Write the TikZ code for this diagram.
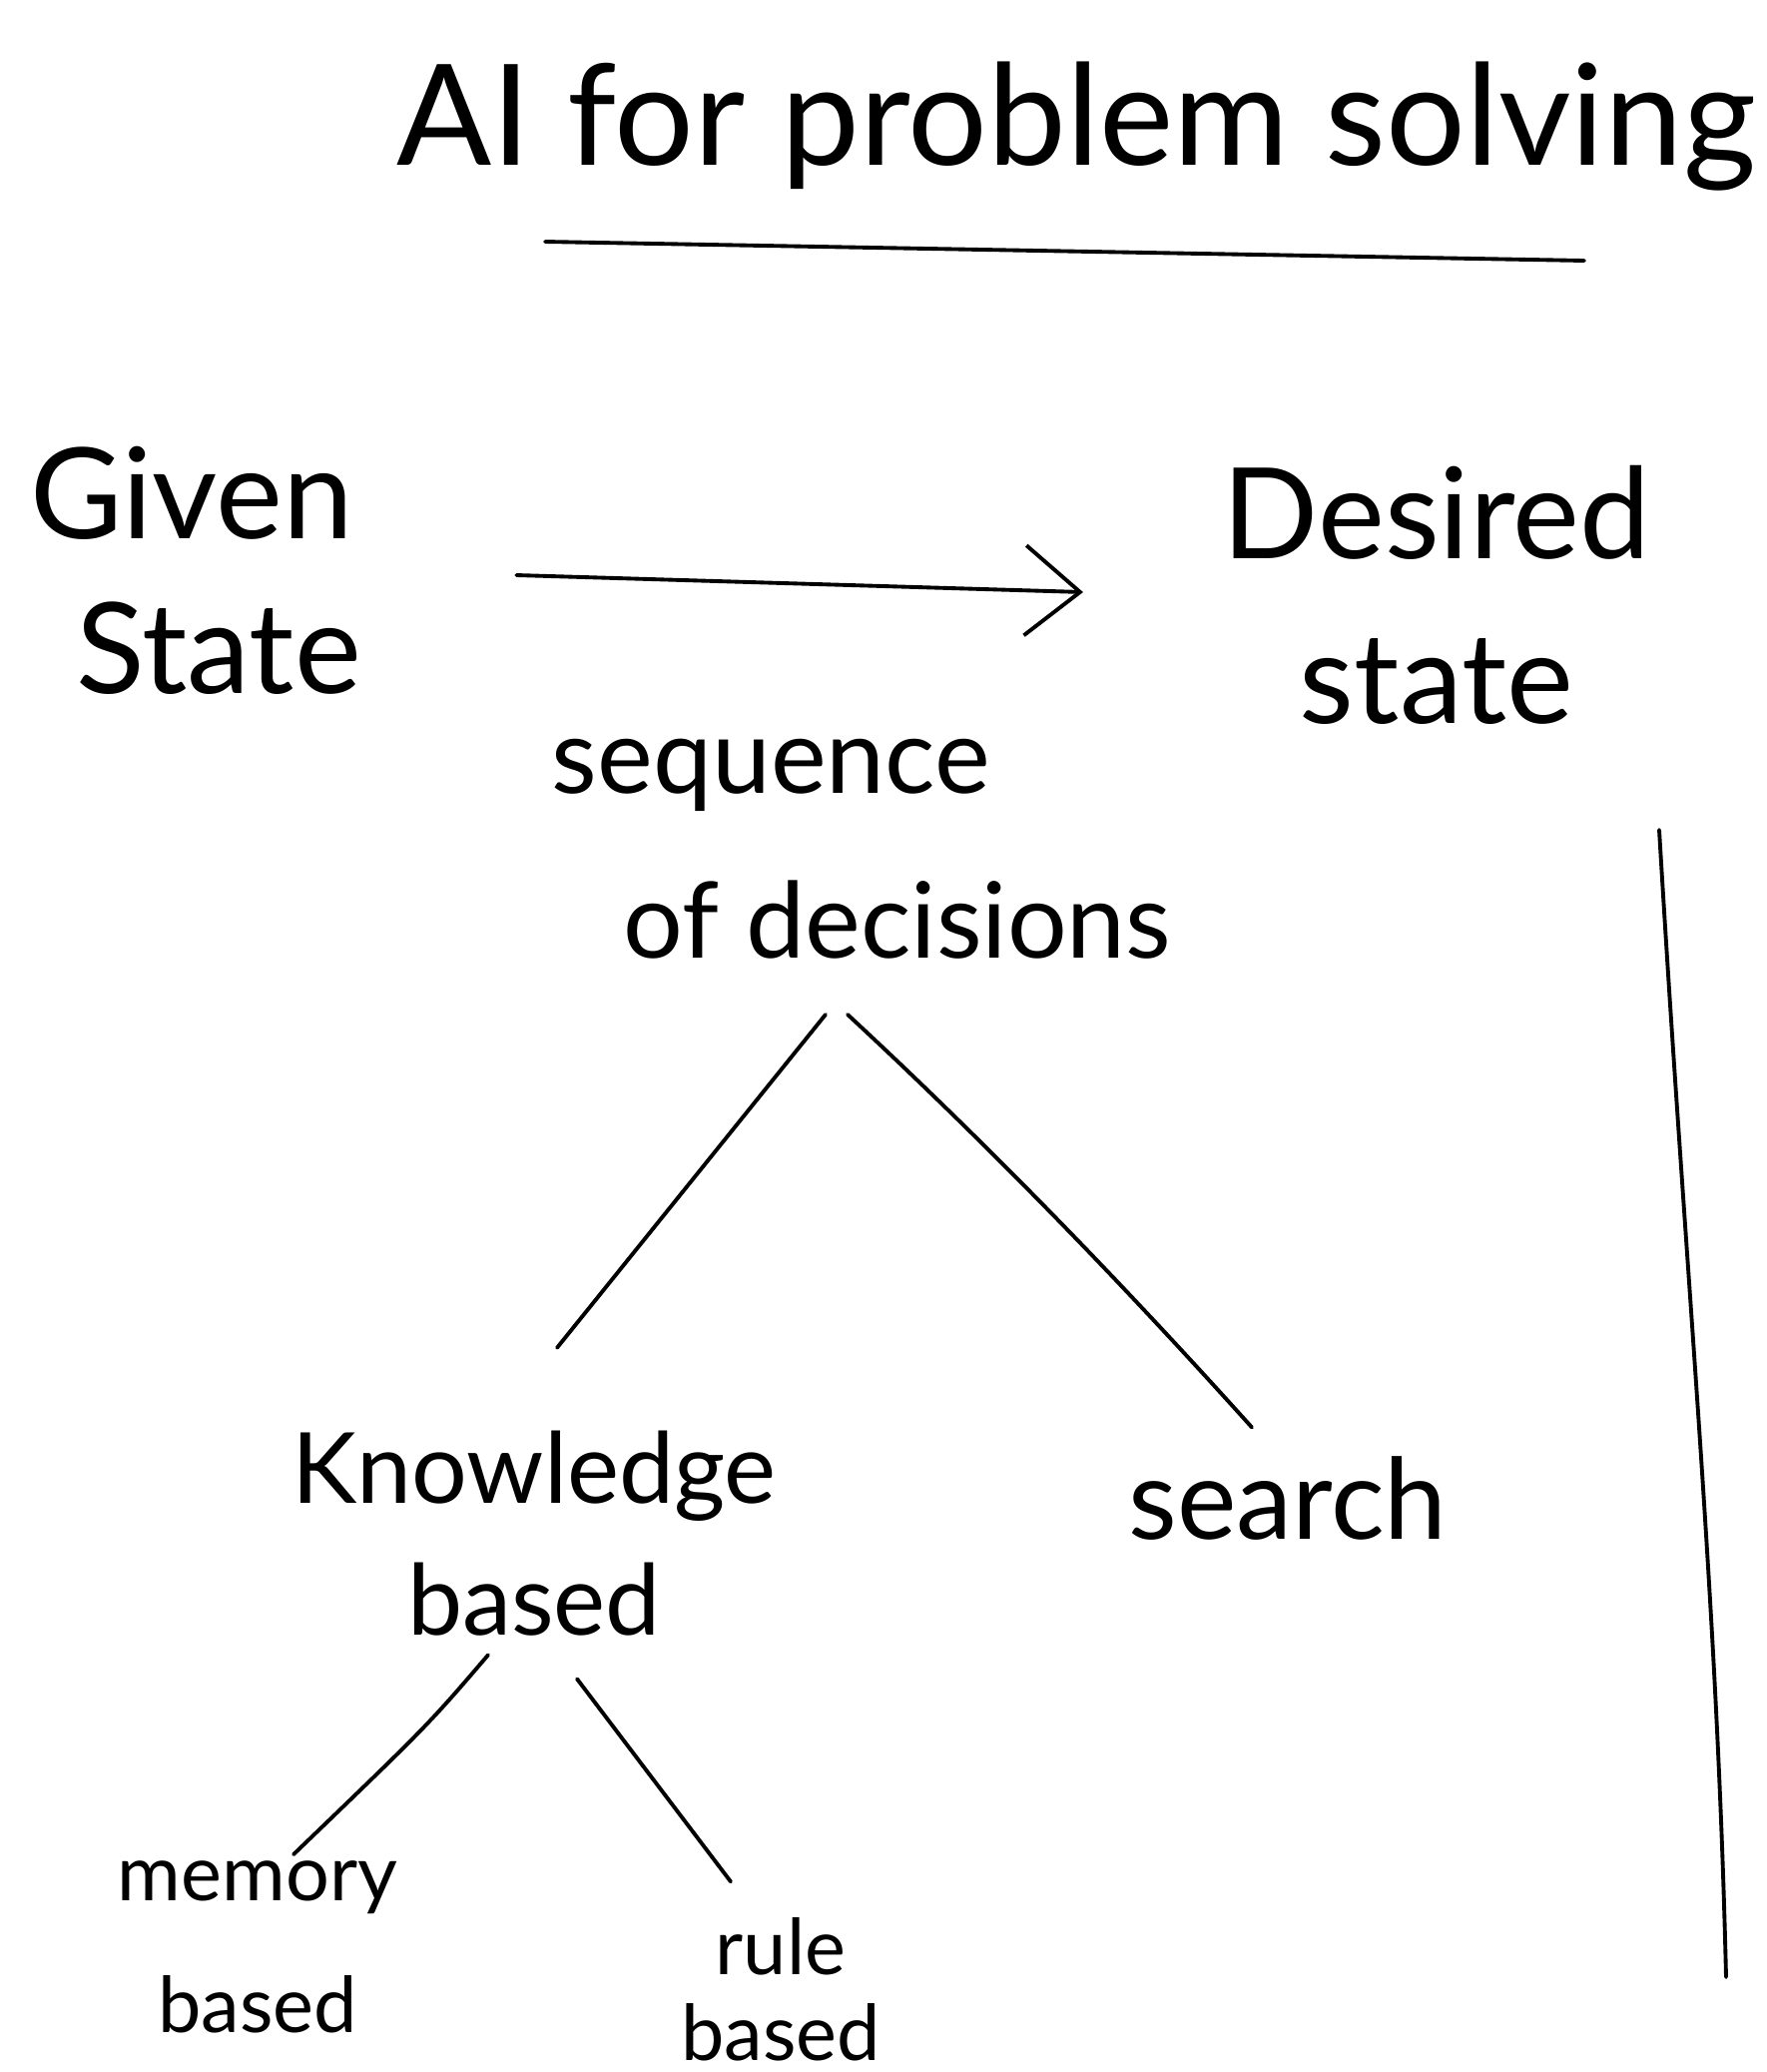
\documentclass[tikz,border=0pt]{standalone}
\usepackage{fontspec}
\setmainfont{Lato}
\usetikzlibrary{arrows.meta,calc}
\begin{document}
\begin{tikzpicture}[x=0.01cm,y=-0.01cm,
  ink/.style={line width=1.1pt,line cap=round,line join=round},
  lbl/.style={inner sep=0pt,align=center},
  arrowtip/.style={-{Straight Barb[length=5.5mm,width=9mm,line width=1.1pt]}}]
\useasboundingbox (0,0) rectangle (1770,2075);

% heading with its underline
\node[inner sep=0pt,anchor=base west,font=\fontsize{40}{48}\selectfont] (title) at (397,165) {AI for problem solving};
\draw[ink] ($(title.base west)+(149,77)$) -- ($(title.base west)+(1190,96)$);

% start and goal states
\node[inner sep=0pt,align=left,font=\fontsize{36}{44}\selectfont] (given) at (196,571) {Given\\\hspace*{0.46cm}State};
\node[lbl,font=\fontsize{36}{47}\selectfont] (desired) at (1439,596) {Desired\\state};
\draw[ink,arrowtip] ([shift={(155,5)}]given.east) -- ([shift={(-139,-3)}]desired.west);

% decomposition tree
\node[inner sep=0pt,align=left,font=\fontsize{30}{47}\selectfont] (seq) at (863,850) {sequence\\\hspace*{0.72cm}of decisions};
\node[lbl,font=\fontsize{28}{37.5}\selectfont] (kb) at (535,1536) {Knowledge\\based};
\node[inner sep=0pt,anchor=base,font=\fontsize{32}{38}\selectfont] (search) at (1290,1541) {search};
\node[lbl,font=\fontsize{22}{37.5}\selectfont] (mem) at (258,1950) {memory\\based};
\node[lbl,font=\fontsize{22}{24.5}\selectfont] (rule) at (782,1992) {rule\\based};

\draw[ink] ([shift={(-36,55)}]seq.south) -- ([shift={(23,-83)}]kb.north);
\draw[ink] ([shift={(-14,55)}]seq.south) .. controls +(135,125) and +(-135,-150) .. ([shift={(-36,-28)}]search.north);
\draw[ink] ([shift={(-46,18)}]kb.south) .. controls +(-60,70) .. ([shift={(36,-6)}]mem.north);
\draw[ink] ([shift={(43,42)}]kb.south) -- ([shift={(-50,-35)}]rule.north);

% margin rule on the right
\coordinate (mtop) at (1662,831);
\coordinate (mbot) at (1729,1980);
\draw[ink] (mtop) .. controls (1690,1300) and (1720,1600) .. (mbot);
\end{tikzpicture}
\end{document}
